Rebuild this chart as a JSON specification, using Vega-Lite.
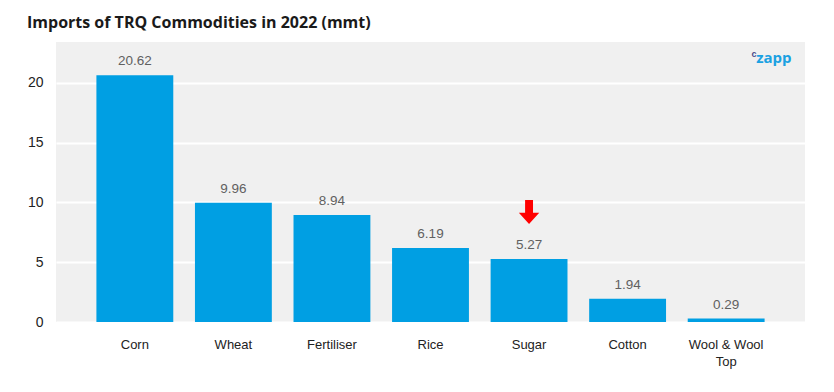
{
  "$schema": "https://vega.github.io/schema/vega-lite/v6.json",
  "autosize": {"type": "none"},
  "width": 749,
  "height": 280,
  "padding": {"left": 56, "top": 42, "right": 29, "bottom": 70},
  "background": "white",
  "title": {
    "text": "Imports of TRQ Commodities in 2022 (mmt)",
    "anchor": "start",
    "frame": "group",
    "dx": -29,
    "offset": -2,
    "baseline": "alphabetic",
    "font": "Open Sans",
    "fontSize": 16,
    "fontWeight": "bold",
    "color": "#1a1a1a"
  },
  "config": {
    "view": {"fill": "#f0f0f0", "stroke": null},
    "font": "Liberation Sans"
  },
  "datasets": {
    "imports": [
      {"commodity": "Corn", "mmt": 20.62},
      {"commodity": "Wheat", "mmt": 9.96},
      {"commodity": "Fertiliser", "mmt": 8.94},
      {"commodity": "Rice", "mmt": 6.19},
      {"commodity": "Sugar", "mmt": 5.27},
      {"commodity": "Cotton", "mmt": 1.94},
      {"commodity": "Wool & Wool Top", "mmt": 0.29}
    ],
    "marker": [
      {"commodity": "Sugar", "at": 9.2}
    ],
    "logo": [
      {"commodity": "Wool & Wool Top", "at": 22.1, "mark": "zapp"}
    ]
  },
  "layer": [
    {
      "data": {"name": "imports"},
      "mark": {"type": "bar", "color": "#009fe3"},
      "encoding": {
        "x": {
          "field": "commodity",
          "type": "nominal",
          "sort": null,
          "scale": {"paddingInner": 0.22, "paddingOuter": 0.41},
          "axis": {
            "title": null,
            "labelAngle": 0,
            "ticks": false,
            "domain": false,
            "labelPadding": 16,
            "labelFontSize": 13,
            "labelColor": "#222222",
            "labelLineHeight": 17,
            "labelExpr": "datum.label == 'Wool & Wool Top' ? ['Wool & Wool', 'Top'] : datum.label"
          }
        },
        "y": {
          "field": "mmt",
          "type": "quantitative",
          "scale": {"domain": [0, 23.4], "nice": false},
          "axis": {
            "title": null,
            "values": [0, 5, 10, 15, 20],
            "ticks": false,
            "domain": false,
            "labelPadding": 13,
            "labelFontSize": 14,
            "labelColor": "#222222",
            "gridColor": "white",
            "gridWidth": 2
          }
        }
      }
    },
    {
      "data": {"name": "imports"},
      "mark": {"type": "text", "baseline": "bottom", "dy": -7, "fontSize": 13.5, "color": "#606060"},
      "encoding": {
        "x": {"field": "commodity", "type": "nominal", "sort": null},
        "y": {"field": "mmt", "type": "quantitative"},
        "text": {"field": "mmt", "type": "quantitative", "format": ".2f"}
      }
    },
    {
      "data": {"name": "marker"},
      "mark": {
        "type": "point",
        "filled": true,
        "color": "#ff0000",
        "opacity": 1,
        "size": 576,
        "shape": "M-0.33,-1 L0.33,-1 L0.33,0.08 L0.85,0.08 L0,1 L-0.85,0.08 L-0.33,0.08 Z"
      },
      "encoding": {
        "x": {"field": "commodity", "type": "nominal", "sort": null},
        "y": {"field": "at", "type": "quantitative"}
      }
    },
    {
      "data": {"name": "logo"},
      "mark": {"type": "text", "align": "right", "baseline": "middle", "dx": 27, "fontSize": 15, "fontWeight": "bold", "color": "#1ba1e2", "font": "Open Sans"},
      "encoding": {
        "x": {"field": "commodity", "type": "nominal", "sort": null, "bandPosition": 1},
        "y": {"field": "at", "type": "quantitative"},
        "text": {"field": "mark"}
      }
    },
    {
      "data": {"name": "logo"},
      "mark": {"type": "text", "align": "right", "baseline": "middle", "dx": -8, "dy": -4, "fontSize": 9, "fontWeight": "bold", "color": "#4a4a8a", "text": "c"},
      "encoding": {
        "x": {"field": "commodity", "type": "nominal", "sort": null, "bandPosition": 1},
        "y": {"field": "at", "type": "quantitative"}
      }
    }
  ]
}
